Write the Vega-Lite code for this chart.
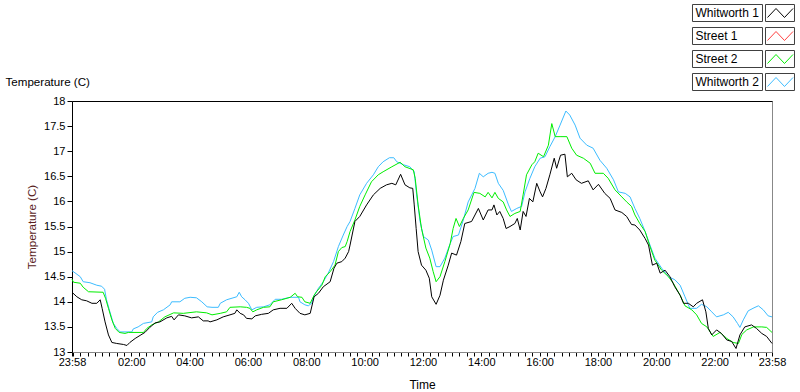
{
  "$schema": "https://vega.github.io/schema/vega-lite/v6.json",
  "width": 700,
  "height": 251,
  "autosize": {"type": "none"},
  "padding": {"left": 72, "top": 101, "right": 28, "bottom": 40},
  "background": "white",
  "config": {"view": {"stroke": "#888888", "strokeWidth": 1}, "font": "Liberation Sans"},
  "resolve": {"axis": {"x": "independent"}},
  "layer": [
    {
      "data": {"values": [
        {"s":"Whitworth 2","t":0,"v":14.62},{"s":"Whitworth 2","t":17,"v":14.5},{"s":"Whitworth 2","t":23,"v":14.4},{"s":"Whitworth 2","t":37,"v":14.38},{"s":"Whitworth 2","t":51,"v":14.33},{"s":"Whitworth 2","t":61,"v":14.31},{"s":"Whitworth 2","t":67,"v":14.25},{"s":"Whitworth 2","t":71,"v":14.04},{"s":"Whitworth 2","t":78,"v":13.8},{"s":"Whitworth 2","t":85,"v":13.57},{"s":"Whitworth 2","t":92,"v":13.47},{"s":"Whitworth 2","t":99,"v":13.4},{"s":"Whitworth 2","t":123,"v":13.4},{"s":"Whitworth 2","t":126,"v":13.46},{"s":"Whitworth 2","t":136,"v":13.5},{"s":"Whitworth 2","t":147,"v":13.57},{"s":"Whitworth 2","t":164,"v":13.6},{"s":"Whitworth 2","t":167,"v":13.7},{"s":"Whitworth 2","t":176,"v":13.79},{"s":"Whitworth 2","t":188,"v":13.84},{"s":"Whitworth 2","t":202,"v":13.94},{"s":"Whitworth 2","t":205,"v":14.0},{"s":"Whitworth 2","t":222,"v":14.0},{"s":"Whitworth 2","t":232,"v":14.07},{"s":"Whitworth 2","t":243,"v":14.09},{"s":"Whitworth 2","t":256,"v":14.08},{"s":"Whitworth 2","t":267,"v":14.0},{"s":"Whitworth 2","t":278,"v":13.9},{"s":"Whitworth 2","t":288,"v":13.89},{"s":"Whitworth 2","t":301,"v":13.89},{"s":"Whitworth 2","t":305,"v":13.97},{"s":"Whitworth 2","t":318,"v":14.04},{"s":"Whitworth 2","t":339,"v":14.1},{"s":"Whitworth 2","t":344,"v":14.19},{"s":"Whitworth 2","t":349,"v":14.1},{"s":"Whitworth 2","t":356,"v":14.04},{"s":"Whitworth 2","t":363,"v":13.97},{"s":"Whitworth 2","t":370,"v":13.84},{"s":"Whitworth 2","t":380,"v":13.89},{"s":"Whitworth 2","t":394,"v":13.9},{"s":"Whitworth 2","t":407,"v":13.94},{"s":"Whitworth 2","t":418,"v":14.05},{"s":"Whitworth 2","t":431,"v":14.05},{"s":"Whitworth 2","t":449,"v":14.09},{"s":"Whitworth 2","t":466,"v":14.09},{"s":"Whitworth 2","t":469,"v":14.0},{"s":"Whitworth 2","t":479,"v":13.94},{"s":"Whitworth 2","t":486,"v":13.92},{"s":"Whitworth 2","t":493,"v":13.97},{"s":"Whitworth 2","t":498,"v":14.12},{"s":"Whitworth 2","t":507,"v":14.27},{"s":"Whitworth 2","t":517,"v":14.4},{"s":"Whitworth 2","t":527,"v":14.57},{"s":"Whitworth 2","t":538,"v":14.8},{"s":"Whitworth 2","t":548,"v":15.1},{"s":"Whitworth 2","t":558,"v":15.33},{"s":"Whitworth 2","t":566,"v":15.5},{"s":"Whitworth 2","t":572,"v":15.6},{"s":"Whitworth 2","t":582,"v":15.86},{"s":"Whitworth 2","t":592,"v":16.13},{"s":"Whitworth 2","t":606,"v":16.36},{"s":"Whitworth 2","t":620,"v":16.53},{"s":"Whitworth 2","t":630,"v":16.69},{"s":"Whitworth 2","t":640,"v":16.79},{"s":"Whitworth 2","t":653,"v":16.87},{"s":"Whitworth 2","t":662,"v":16.87},{"s":"Whitworth 2","t":668,"v":16.79},{"s":"Whitworth 2","t":682,"v":16.73},{"s":"Whitworth 2","t":695,"v":16.69},{"s":"Whitworth 2","t":704,"v":16.59},{"s":"Whitworth 2","t":709,"v":16.13},{"s":"Whitworth 2","t":716,"v":15.6},{"s":"Whitworth 2","t":723,"v":15.3},{"s":"Whitworth 2","t":733,"v":15.23},{"s":"Whitworth 2","t":740,"v":15.03},{"s":"Whitworth 2","t":749,"v":14.7},{"s":"Whitworth 2","t":757,"v":14.7},{"s":"Whitworth 2","t":767,"v":14.87},{"s":"Whitworth 2","t":778,"v":15.16},{"s":"Whitworth 2","t":784,"v":15.3},{"s":"Whitworth 2","t":795,"v":15.33},{"s":"Whitworth 2","t":805,"v":15.63},{"s":"Whitworth 2","t":815,"v":15.99},{"s":"Whitworth 2","t":829,"v":16.26},{"s":"Whitworth 2","t":838,"v":16.56},{"s":"Whitworth 2","t":846,"v":16.49},{"s":"Whitworth 2","t":856,"v":16.56},{"s":"Whitworth 2","t":864,"v":16.58},{"s":"Whitworth 2","t":870,"v":16.56},{"s":"Whitworth 2","t":877,"v":16.36},{"s":"Whitworth 2","t":887,"v":16.22},{"s":"Whitworth 2","t":898,"v":15.93},{"s":"Whitworth 2","t":904,"v":15.8},{"s":"Whitworth 2","t":915,"v":15.86},{"s":"Whitworth 2","t":925,"v":15.9},{"s":"Whitworth 2","t":932,"v":16.19},{"s":"Whitworth 2","t":942,"v":16.46},{"s":"Whitworth 2","t":952,"v":16.69},{"s":"Whitworth 2","t":963,"v":16.86},{"s":"Whitworth 2","t":973,"v":16.89},{"s":"Whitworth 2","t":983,"v":17.09},{"s":"Whitworth 2","t":994,"v":17.29},{"s":"Whitworth 2","t":1004,"v":17.52},{"s":"Whitworth 2","t":1016,"v":17.8},{"s":"Whitworth 2","t":1024,"v":17.72},{"s":"Whitworth 2","t":1035,"v":17.52},{"s":"Whitworth 2","t":1045,"v":17.26},{"s":"Whitworth 2","t":1059,"v":17.12},{"s":"Whitworth 2","t":1072,"v":17.06},{"s":"Whitworth 2","t":1086,"v":16.82},{"s":"Whitworth 2","t":1100,"v":16.66},{"s":"Whitworth 2","t":1114,"v":16.43},{"s":"Whitworth 2","t":1124,"v":16.19},{"s":"Whitworth 2","t":1138,"v":16.16},{"s":"Whitworth 2","t":1148,"v":16.09},{"s":"Whitworth 2","t":1158,"v":15.86},{"s":"Whitworth 2","t":1168,"v":15.66},{"s":"Whitworth 2","t":1179,"v":15.4},{"s":"Whitworth 2","t":1189,"v":15.13},{"s":"Whitworth 2","t":1199,"v":14.87},{"s":"Whitworth 2","t":1213,"v":14.67},{"s":"Whitworth 2","t":1227,"v":14.5},{"s":"Whitworth 2","t":1240,"v":14.44},{"s":"Whitworth 2","t":1251,"v":14.33},{"s":"Whitworth 2","t":1261,"v":14.1},{"s":"Whitworth 2","t":1271,"v":13.87},{"s":"Whitworth 2","t":1285,"v":13.87},{"s":"Whitworth 2","t":1295,"v":13.95},{"s":"Whitworth 2","t":1306,"v":13.9},{"s":"Whitworth 2","t":1316,"v":13.8},{"s":"Whitworth 2","t":1326,"v":13.7},{"s":"Whitworth 2","t":1340,"v":13.74},{"s":"Whitworth 2","t":1350,"v":13.79},{"s":"Whitworth 2","t":1360,"v":13.7},{"s":"Whitworth 2","t":1369,"v":13.57},{"s":"Whitworth 2","t":1374,"v":13.49},{"s":"Whitworth 2","t":1381,"v":13.64},{"s":"Whitworth 2","t":1391,"v":13.82},{"s":"Whitworth 2","t":1403,"v":13.88},{"s":"Whitworth 2","t":1412,"v":13.92},{"s":"Whitworth 2","t":1422,"v":13.84},{"s":"Whitworth 2","t":1432,"v":13.72},{"s":"Whitworth 2","t":1440,"v":13.7},
        {"s":"Street 2","t":0,"v":14.45},{"s":"Street 2","t":3,"v":14.39},{"s":"Street 2","t":17,"v":14.37},{"s":"Street 2","t":23,"v":14.29},{"s":"Street 2","t":34,"v":14.2},{"s":"Street 2","t":64,"v":14.19},{"s":"Street 2","t":69,"v":14.07},{"s":"Street 2","t":75,"v":13.87},{"s":"Street 2","t":82,"v":13.64},{"s":"Street 2","t":89,"v":13.47},{"s":"Street 2","t":97,"v":13.39},{"s":"Street 2","t":109,"v":13.37},{"s":"Street 2","t":116,"v":13.39},{"s":"Street 2","t":147,"v":13.39},{"s":"Street 2","t":154,"v":13.47},{"s":"Street 2","t":164,"v":13.54},{"s":"Street 2","t":178,"v":13.6},{"s":"Street 2","t":191,"v":13.7},{"s":"Street 2","t":209,"v":13.78},{"s":"Street 2","t":229,"v":13.77},{"s":"Street 2","t":256,"v":13.8},{"s":"Street 2","t":277,"v":13.78},{"s":"Street 2","t":288,"v":13.74},{"s":"Street 2","t":305,"v":13.77},{"s":"Street 2","t":318,"v":13.8},{"s":"Street 2","t":325,"v":13.89},{"s":"Street 2","t":346,"v":13.9},{"s":"Street 2","t":359,"v":13.89},{"s":"Street 2","t":366,"v":13.87},{"s":"Street 2","t":372,"v":13.8},{"s":"Street 2","t":380,"v":13.84},{"s":"Street 2","t":394,"v":13.89},{"s":"Street 2","t":407,"v":13.9},{"s":"Street 2","t":414,"v":14.0},{"s":"Street 2","t":431,"v":14.04},{"s":"Street 2","t":449,"v":14.09},{"s":"Street 2","t":459,"v":14.17},{"s":"Street 2","t":464,"v":14.1},{"s":"Street 2","t":473,"v":14.09},{"s":"Street 2","t":479,"v":14.0},{"s":"Street 2","t":490,"v":13.97},{"s":"Street 2","t":498,"v":14.13},{"s":"Street 2","t":503,"v":14.2},{"s":"Street 2","t":514,"v":14.33},{"s":"Street 2","t":521,"v":14.5},{"s":"Street 2","t":531,"v":14.6},{"s":"Street 2","t":541,"v":14.73},{"s":"Street 2","t":548,"v":15.0},{"s":"Street 2","t":555,"v":15.08},{"s":"Street 2","t":562,"v":15.1},{"s":"Street 2","t":566,"v":15.2},{"s":"Street 2","t":572,"v":15.4},{"s":"Street 2","t":582,"v":15.63},{"s":"Street 2","t":592,"v":15.9},{"s":"Street 2","t":603,"v":16.13},{"s":"Street 2","t":616,"v":16.39},{"s":"Street 2","t":630,"v":16.53},{"s":"Street 2","t":640,"v":16.59},{"s":"Street 2","t":658,"v":16.69},{"s":"Street 2","t":675,"v":16.78},{"s":"Street 2","t":685,"v":16.69},{"s":"Street 2","t":702,"v":16.63},{"s":"Street 2","t":706,"v":16.46},{"s":"Street 2","t":712,"v":15.93},{"s":"Street 2","t":719,"v":15.46},{"s":"Street 2","t":728,"v":15.07},{"s":"Street 2","t":736,"v":14.87},{"s":"Street 2","t":743,"v":14.6},{"s":"Street 2","t":749,"v":14.4},{"s":"Street 2","t":757,"v":14.5},{"s":"Street 2","t":767,"v":14.8},{"s":"Street 2","t":778,"v":15.16},{"s":"Street 2","t":784,"v":15.46},{"s":"Street 2","t":790,"v":15.66},{"s":"Street 2","t":797,"v":15.5},{"s":"Street 2","t":805,"v":15.66},{"s":"Street 2","t":815,"v":15.83},{"s":"Street 2","t":827,"v":16.18},{"s":"Street 2","t":839,"v":16.16},{"s":"Street 2","t":850,"v":16.09},{"s":"Street 2","t":856,"v":16.18},{"s":"Street 2","t":864,"v":16.07},{"s":"Street 2","t":870,"v":16.18},{"s":"Street 2","t":877,"v":16.06},{"s":"Street 2","t":887,"v":15.99},{"s":"Street 2","t":894,"v":15.83},{"s":"Street 2","t":901,"v":15.7},{"s":"Street 2","t":911,"v":15.76},{"s":"Street 2","t":922,"v":15.8},{"s":"Street 2","t":928,"v":16.13},{"s":"Street 2","t":935,"v":16.53},{"s":"Street 2","t":946,"v":16.73},{"s":"Street 2","t":952,"v":16.79},{"s":"Street 2","t":959,"v":16.96},{"s":"Street 2","t":970,"v":16.89},{"s":"Street 2","t":980,"v":17.12},{"s":"Street 2","t":987,"v":17.55},{"s":"Street 2","t":994,"v":17.29},{"s":"Street 2","t":1004,"v":17.29},{"s":"Street 2","t":1018,"v":17.29},{"s":"Street 2","t":1028,"v":17.06},{"s":"Street 2","t":1038,"v":16.92},{"s":"Street 2","t":1052,"v":16.86},{"s":"Street 2","t":1066,"v":16.76},{"s":"Street 2","t":1076,"v":16.56},{"s":"Street 2","t":1093,"v":16.56},{"s":"Street 2","t":1103,"v":16.46},{"s":"Street 2","t":1117,"v":16.23},{"s":"Street 2","t":1131,"v":16.09},{"s":"Street 2","t":1141,"v":15.99},{"s":"Street 2","t":1151,"v":15.9},{"s":"Street 2","t":1158,"v":15.73},{"s":"Street 2","t":1168,"v":15.56},{"s":"Street 2","t":1179,"v":15.4},{"s":"Street 2","t":1189,"v":15.1},{"s":"Street 2","t":1199,"v":14.83},{"s":"Street 2","t":1213,"v":14.63},{"s":"Street 2","t":1227,"v":14.5},{"s":"Street 2","t":1237,"v":14.37},{"s":"Street 2","t":1251,"v":14.13},{"s":"Street 2","t":1261,"v":13.92},{"s":"Street 2","t":1275,"v":13.84},{"s":"Street 2","t":1285,"v":13.74},{"s":"Street 2","t":1295,"v":13.57},{"s":"Street 2","t":1306,"v":13.5},{"s":"Street 2","t":1319,"v":13.31},{"s":"Street 2","t":1333,"v":13.39},{"s":"Street 2","t":1347,"v":13.27},{"s":"Street 2","t":1360,"v":13.19},{"s":"Street 2","t":1371,"v":13.17},{"s":"Street 2","t":1378,"v":13.35},{"s":"Street 2","t":1388,"v":13.44},{"s":"Street 2","t":1402,"v":13.5},{"s":"Street 2","t":1419,"v":13.5},{"s":"Street 2","t":1429,"v":13.49},{"s":"Street 2","t":1440,"v":13.39},
        {"s":"Whitworth 1","t":0,"v":14.19},{"s":"Whitworth 1","t":10,"v":14.1},{"s":"Whitworth 1","t":20,"v":14.04},{"s":"Whitworth 1","t":30,"v":14.02},{"s":"Whitworth 1","t":41,"v":13.97},{"s":"Whitworth 1","t":51,"v":13.97},{"s":"Whitworth 1","t":58,"v":14.04},{"s":"Whitworth 1","t":62,"v":13.87},{"s":"Whitworth 1","t":68,"v":13.6},{"s":"Whitworth 1","t":75,"v":13.34},{"s":"Whitworth 1","t":82,"v":13.19},{"s":"Whitworth 1","t":92,"v":13.17},{"s":"Whitworth 1","t":106,"v":13.15},{"s":"Whitworth 1","t":113,"v":13.13},{"s":"Whitworth 1","t":119,"v":13.19},{"s":"Whitworth 1","t":130,"v":13.27},{"s":"Whitworth 1","t":140,"v":13.33},{"s":"Whitworth 1","t":150,"v":13.39},{"s":"Whitworth 1","t":160,"v":13.49},{"s":"Whitworth 1","t":171,"v":13.58},{"s":"Whitworth 1","t":181,"v":13.6},{"s":"Whitworth 1","t":195,"v":13.68},{"s":"Whitworth 1","t":205,"v":13.71},{"s":"Whitworth 1","t":210,"v":13.64},{"s":"Whitworth 1","t":219,"v":13.74},{"s":"Whitworth 1","t":232,"v":13.72},{"s":"Whitworth 1","t":246,"v":13.68},{"s":"Whitworth 1","t":260,"v":13.7},{"s":"Whitworth 1","t":270,"v":13.62},{"s":"Whitworth 1","t":280,"v":13.62},{"s":"Whitworth 1","t":284,"v":13.6},{"s":"Whitworth 1","t":298,"v":13.64},{"s":"Whitworth 1","t":311,"v":13.7},{"s":"Whitworth 1","t":325,"v":13.74},{"s":"Whitworth 1","t":335,"v":13.77},{"s":"Whitworth 1","t":339,"v":13.84},{"s":"Whitworth 1","t":346,"v":13.77},{"s":"Whitworth 1","t":353,"v":13.74},{"s":"Whitworth 1","t":359,"v":13.67},{"s":"Whitworth 1","t":370,"v":13.66},{"s":"Whitworth 1","t":377,"v":13.72},{"s":"Whitworth 1","t":390,"v":13.75},{"s":"Whitworth 1","t":404,"v":13.77},{"s":"Whitworth 1","t":414,"v":13.84},{"s":"Whitworth 1","t":428,"v":13.87},{"s":"Whitworth 1","t":442,"v":13.87},{"s":"Whitworth 1","t":452,"v":13.97},{"s":"Whitworth 1","t":459,"v":13.87},{"s":"Whitworth 1","t":469,"v":13.77},{"s":"Whitworth 1","t":479,"v":13.74},{"s":"Whitworth 1","t":490,"v":13.77},{"s":"Whitworth 1","t":498,"v":14.1},{"s":"Whitworth 1","t":507,"v":14.17},{"s":"Whitworth 1","t":517,"v":14.3},{"s":"Whitworth 1","t":531,"v":14.4},{"s":"Whitworth 1","t":539,"v":14.67},{"s":"Whitworth 1","t":545,"v":14.77},{"s":"Whitworth 1","t":555,"v":14.8},{"s":"Whitworth 1","t":562,"v":14.87},{"s":"Whitworth 1","t":569,"v":15.0},{"s":"Whitworth 1","t":572,"v":15.13},{"s":"Whitworth 1","t":582,"v":15.6},{"s":"Whitworth 1","t":592,"v":15.7},{"s":"Whitworth 1","t":606,"v":15.93},{"s":"Whitworth 1","t":620,"v":16.13},{"s":"Whitworth 1","t":634,"v":16.26},{"s":"Whitworth 1","t":647,"v":16.33},{"s":"Whitworth 1","t":658,"v":16.36},{"s":"Whitworth 1","t":666,"v":16.33},{"s":"Whitworth 1","t":676,"v":16.54},{"s":"Whitworth 1","t":685,"v":16.33},{"s":"Whitworth 1","t":695,"v":16.27},{"s":"Whitworth 1","t":701,"v":16.26},{"s":"Whitworth 1","t":704,"v":15.93},{"s":"Whitworth 1","t":708,"v":15.46},{"s":"Whitworth 1","t":712,"v":15.0},{"s":"Whitworth 1","t":719,"v":14.73},{"s":"Whitworth 1","t":728,"v":14.63},{"s":"Whitworth 1","t":735,"v":14.47},{"s":"Whitworth 1","t":740,"v":14.1},{"s":"Whitworth 1","t":749,"v":13.95},{"s":"Whitworth 1","t":757,"v":14.13},{"s":"Whitworth 1","t":764,"v":14.43},{"s":"Whitworth 1","t":774,"v":14.73},{"s":"Whitworth 1","t":781,"v":14.97},{"s":"Whitworth 1","t":791,"v":14.93},{"s":"Whitworth 1","t":800,"v":15.2},{"s":"Whitworth 1","t":808,"v":15.56},{"s":"Whitworth 1","t":822,"v":15.6},{"s":"Whitworth 1","t":836,"v":15.86},{"s":"Whitworth 1","t":846,"v":15.63},{"s":"Whitworth 1","t":856,"v":15.83},{"s":"Whitworth 1","t":864,"v":15.83},{"s":"Whitworth 1","t":868,"v":15.93},{"s":"Whitworth 1","t":874,"v":15.73},{"s":"Whitworth 1","t":880,"v":15.8},{"s":"Whitworth 1","t":887,"v":15.66},{"s":"Whitworth 1","t":893,"v":15.46},{"s":"Whitworth 1","t":901,"v":15.5},{"s":"Whitworth 1","t":911,"v":15.56},{"s":"Whitworth 1","t":916,"v":15.66},{"s":"Whitworth 1","t":922,"v":15.43},{"s":"Whitworth 1","t":928,"v":15.8},{"s":"Whitworth 1","t":934,"v":15.7},{"s":"Whitworth 1","t":941,"v":16.06},{"s":"Whitworth 1","t":948,"v":15.99},{"s":"Whitworth 1","t":956,"v":16.36},{"s":"Whitworth 1","t":963,"v":16.19},{"s":"Whitworth 1","t":968,"v":16.09},{"s":"Whitworth 1","t":975,"v":16.26},{"s":"Whitworth 1","t":983,"v":16.53},{"s":"Whitworth 1","t":992,"v":16.86},{"s":"Whitworth 1","t":997,"v":16.66},{"s":"Whitworth 1","t":1005,"v":16.92},{"s":"Whitworth 1","t":1014,"v":16.94},{"s":"Whitworth 1","t":1019,"v":16.49},{"s":"Whitworth 1","t":1028,"v":16.56},{"s":"Whitworth 1","t":1037,"v":16.43},{"s":"Whitworth 1","t":1048,"v":16.36},{"s":"Whitworth 1","t":1062,"v":16.41},{"s":"Whitworth 1","t":1072,"v":16.23},{"s":"Whitworth 1","t":1083,"v":16.34},{"s":"Whitworth 1","t":1096,"v":16.16},{"s":"Whitworth 1","t":1107,"v":16.06},{"s":"Whitworth 1","t":1117,"v":15.83},{"s":"Whitworth 1","t":1131,"v":15.78},{"s":"Whitworth 1","t":1141,"v":15.7},{"s":"Whitworth 1","t":1151,"v":15.54},{"s":"Whitworth 1","t":1158,"v":15.53},{"s":"Whitworth 1","t":1168,"v":15.43},{"s":"Whitworth 1","t":1179,"v":15.26},{"s":"Whitworth 1","t":1186,"v":15.13},{"s":"Whitworth 1","t":1190,"v":14.93},{"s":"Whitworth 1","t":1194,"v":14.73},{"s":"Whitworth 1","t":1203,"v":14.77},{"s":"Whitworth 1","t":1210,"v":14.57},{"s":"Whitworth 1","t":1220,"v":14.63},{"s":"Whitworth 1","t":1230,"v":14.5},{"s":"Whitworth 1","t":1240,"v":14.3},{"s":"Whitworth 1","t":1251,"v":14.13},{"s":"Whitworth 1","t":1258,"v":13.97},{"s":"Whitworth 1","t":1268,"v":13.97},{"s":"Whitworth 1","t":1278,"v":13.9},{"s":"Whitworth 1","t":1285,"v":13.97},{"s":"Whitworth 1","t":1297,"v":14.04},{"s":"Whitworth 1","t":1304,"v":13.8},{"s":"Whitworth 1","t":1309,"v":13.47},{"s":"Whitworth 1","t":1316,"v":13.34},{"s":"Whitworth 1","t":1326,"v":13.44},{"s":"Whitworth 1","t":1336,"v":13.37},{"s":"Whitworth 1","t":1347,"v":13.24},{"s":"Whitworth 1","t":1357,"v":13.21},{"s":"Whitworth 1","t":1366,"v":13.07},{"s":"Whitworth 1","t":1374,"v":13.34},{"s":"Whitworth 1","t":1384,"v":13.5},{"s":"Whitworth 1","t":1398,"v":13.54},{"s":"Whitworth 1","t":1408,"v":13.47},{"s":"Whitworth 1","t":1419,"v":13.37},{"s":"Whitworth 1","t":1429,"v":13.31},{"s":"Whitworth 1","t":1440,"v":13.17}
      ]},
      "mark": {"type": "line", "strokeWidth": 1, "interpolate": "linear"},
      "encoding": {
        "x": {
          "field": "t", "type": "quantitative",
          "scale": {"domain": [0, 1440], "nice": false, "zero": false},
          "axis": {
            "values": [0,2,17,32,47,62,77,92,107,122,137,152,167,182,197,212,227,242,257,272,287,302,317,332,347,362,377,392,407,422,437,452,467,482,497,512,527,542,557,572,587,602,617,632,647,662,677,692,707,722,737,752,767,782,797,812,827,842,857,872,887,902,917,932,947,962,977,992,1007,1022,1037,1052,1067,1082,1097,1112,1127,1142,1157,1172,1187,1202,1217,1232,1247,1262,1277,1292,1307,1322,1337,1352,1367,1382,1397,1412,1427,1440],
            "labelExpr": "datum.value == 0 || datum.value == 1440 ? '23:58' : (datum.value % 120 == 2 && datum.value > 2 ? (datum.value < 602 ? '0' : '') + floor(datum.value / 60) + ':00' : '')",
            "title": "Time", "titleX": 350, "titleY": 36, "titleBaseline": "alphabetic", "titleAlign": "center",
            "titleFont": "Liberation Sans", "titleFontSize": 12, "titleFontWeight": "normal", "titleColor": "black",
            "labelFont": "Liberation Sans", "labelFontSize": 11, "labelColor": "black", "labelPadding": 0,
            "labelOverlap": false, "labelFlush": false, "labelBound": false,
            "tickSize": 4, "tickColor": "black", "tickWidth": 1, "domainColor": "#888888", "grid": false
          }
        },
        "y": {
          "field": "v", "type": "quantitative",
          "scale": {"domain": [13, 18], "nice": false, "zero": false},
          "axis": {
            "values": [13, 13.5, 14, 14.5, 15, 15.5, 16, 16.5, 17, 17.5, 18],
            "format": "~g",
            "title": "Temperature (C)", "titleColor": "#5a1e1e", "titleFont": "Liberation Sans", "titleFontSize": 11.6, "titleFontWeight": "normal",
            "titleX": -40, "titleY": 125.5, "titleAngle": -90, "titleBaseline": "middle", "titleAlign": "center",
            "labelFont": "Liberation Sans", "labelFontSize": 11, "labelColor": "black", "labelPadding": 2,
            "labelOverlap": false, "labelFlush": false,
            "tickSize": 5, "tickColor": "black", "domainColor": "black", "grid": false
          }
        },
        "color": {
          "field": "s", "type": "nominal",
          "scale": {"domain": ["Whitworth 1", "Street 1", "Street 2", "Whitworth 2"], "range": ["#000000", "#ff4040", "#00ee00", "#3cbcff"]},
          "legend": {
            "orient": "none", "legendX": 620.5, "legendY": -97, "direction": "vertical", "columns": 1,
            "title": null, "padding": 0, "rowPadding": 1,
            "symbolType": "M-1.059,-1M10.941,1M7.765,0.529L8.765,-0.529L9.765,0.529L10.765,-0.529",
            "symbolSize": 289, "symbolStrokeWidth": 1, "symbolFillColor": "transparent", "symbolOpacity": 1,
            "labelOffset": -15, "labelFont": "Liberation Sans", "labelFontSize": 12, "labelColor": "black", "labelLimit": 0
          }
        }
      }
    },
    {
      "data": {"values": []},
      "mark": {"type": "point", "filled": false, "opacity": 1, "stroke": "#404040", "strokeWidth": 1},
      "encoding": {
        "x": {
          "field": "t", "type": "quantitative",
          "axis": {"orient": "top", "domainColor": "black", "ticks": false, "labels": false, "grid": false,
                   "title": "Temperature (C)", "titleX": -67, "titleY": -16, "titleAlign": "left", "titleBaseline": "alphabetic", "titleAngle": 0,
                   "titleFont": "Liberation Sans", "titleFontSize": 11.6, "titleFontWeight": "normal", "titleColor": "black"}
        },
        "shape": {
          "field": "b", "type": "nominal",
          "scale": {"domain": ["a", "b", "c", "d"],
                    "range": ["M-1.059,-1H7.176V1H-1.059ZM7.529,-1H10.941V1H7.529Z", "M-1.059,-1H7.176V1H-1.059ZM7.529,-1H10.941V1H7.529Z", "M-1.059,-1H7.176V1H-1.059ZM7.529,-1H10.941V1H7.529Z", "M-1.059,-1H7.176V1H-1.059ZM7.529,-1H10.941V1H7.529Z"]},
          "legend": {
            "orient": "none", "legendX": 620.5, "legendY": -97, "direction": "vertical", "columns": 1,
            "title": null, "padding": 0, "rowPadding": 1,
            "symbolSize": 289, "symbolStrokeWidth": 1, "symbolStrokeColor": "#404040", "symbolFillColor": "transparent", "symbolOpacity": 1,
            "labelOffset": -15, "labelFont": "Liberation Sans", "labelFontSize": 12, "labelExpr": "''", "labelLimit": 0
          }
        }
      }
    }
  ]
}
